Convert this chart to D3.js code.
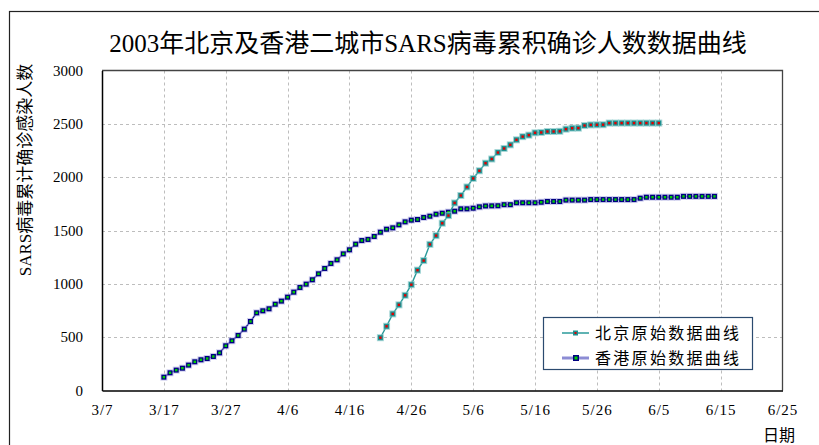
<!DOCTYPE html>
<html><head><meta charset="utf-8">
<script src="https://cdn.jsdelivr.net/npm/d3@7"></script>
<style>
html,body{margin:0;padding:0;background:#fff;}
svg{display:block;}
text{font-family:'Liberation Serif','Noto Sans CJK SC',serif;fill:#000;}
</style></head>
<body>
<svg id="chart" width="819" height="445"></svg>
<script>
const titleText = "2003年北京及香港二城市SARS病毒累积确诊人数数据曲线";
const yTitle = "SARS病毒累计确诊感染人数";
const xTitle = "日期";
const xTickLabels = ["3/7","3/17","3/27","4/6","4/16","4/26","5/6","5/16","5/26","6/5","6/15","6/25"];
const yTickValues = [0,500,1000,1500,2000,2500,3000];
const seriesNames = ["北京原始数据曲线","香港原始数据曲线"];

const hkDates = ["3/17","3/18","3/19","3/20","3/21","3/22","3/23","3/24","3/25","3/26","3/27","3/28","3/29","3/30","3/31",
"4/1","4/2","4/3","4/4","4/5","4/6","4/7","4/8","4/9","4/10","4/11","4/12","4/13","4/14","4/15","4/16","4/17","4/18","4/19","4/20","4/21","4/22","4/23","4/24","4/25","4/26","4/27","4/28","4/29","4/30",
"5/1","5/2","5/3","5/4","5/5","5/6","5/7","5/8","5/9","5/10","5/11","5/12","5/13","5/14","5/15","5/16","5/17","5/18","5/19","5/20","5/21","5/22","5/23","5/24","5/25","5/26","5/27","5/28","5/29","5/30","5/31",
"6/1","6/2","6/3","6/4","6/5","6/6","6/7","6/8","6/9","6/10","6/11","6/12","6/13","6/14"];
const hkValues = [125,166,191,209,238,269,288,300,319,353,419,466,516,575,647,
728,747,766,809,838,875,922,966,997,1038,1094,1144,1191,1225,1281,1319,1372,1406,1416,1444,1484,1512,1525,1553,1581,1597,1603,1622,1634,1653,
1662,1672,1681,1703,1703,1709,1722,1730,1731,1732,1742,1742,1760,1760,1760,1760,1765,1772,1772,1772,1785,1785,1785,1785,1790,1790,1790,1790,1790,1790,1790,
1790,1803,1812,1812,1812,1812,1812,1812,1820,1820,1820,1820,1820,1820];

const bjDates = ["4/21","4/22","4/23","4/24","4/25","4/26","4/27","4/28","4/29","4/30",
"5/1","5/2","5/3","5/4","5/5","5/6","5/7","5/8","5/9","5/10","5/11","5/12","5/13","5/14","5/15","5/16","5/17","5/18","5/19","5/20","5/21","5/22","5/23","5/24","5/25","5/26","5/27","5/28","5/29","5/30","5/31",
"6/1","6/2","6/3","6/4","6/5"];
const bjValues = [495,602,718,803,892,992,1128,1218,1370,1452,
1568,1640,1758,1828,1908,1988,2060,2131,2170,2231,2269,2303,2350,2380,2394,2416,2419,2428,2428,2430,2450,2459,2460,2484,2490,2491,2492,2507,2507,2507,2507,
2507,2507,2507,2507,2507];

const parse = s => { const [m,d] = s.split("/").map(Number); return new Date(2003, m-1, d); };

const svg = d3.select("#chart");
const L = 102, R = 782.5, T = 70.5, B = 390.5;

const x = d3.scaleTime().domain([parse(xTickLabels[0]), parse(xTickLabels[xTickLabels.length-1])]).range([L, R]);
const y = d3.scaleLinear().domain([0, 3000]).range([B, T]);

// outer frame
svg.append("rect").attr("x",9.5).attr("y",11.5).attr("width",830).attr("height",460)
  .attr("fill","none").attr("stroke","#222").attr("stroke-width",1.2);

// title
svg.append("text").attr("x",428).attr("y",52).attr("text-anchor","middle")
  .style("font-size","25px").text(titleText);

// gridlines
const grid = svg.append("g");
grid.selectAll("line.h").data(yTickValues.filter(v => v > 0 && v < 3000)).join("line")
  .attr("x1",L).attr("x2",R).attr("y1",d=>Math.round(y(d))+0.5).attr("y2",d=>Math.round(y(d))+0.5)
  .attr("stroke","#bdbdbd").attr("stroke-dasharray","3,3");
grid.selectAll("line.v").data(xTickLabels.slice(1,-1)).join("line")
  .attr("x1",d=>Math.round(x(parse(d)))+0.5).attr("x2",d=>Math.round(x(parse(d)))+0.5)
  .attr("y1",T).attr("y2",B).attr("stroke","#bdbdbd").attr("stroke-dasharray","3,3");

// plot frame top/right
svg.append("path").attr("d",`M${L},${T}H${R}V${B}`).attr("fill","none").attr("stroke","#444").attr("stroke-width",1.3);

// axes
const xAxis = d3.axisBottom(x).tickValues(xTickLabels.map(parse)).tickFormat((d,i)=>xTickLabels[i]).tickSize(0).tickPadding(14);
const gx = svg.append("g").attr("transform",`translate(0,${B})`).call(xAxis);
gx.select(".domain").attr("stroke","#000").attr("stroke-width",1.5);
gx.selectAll("text").style("font-size","15px").style("letter-spacing","1px").attr("fill","#000");

const yAxis = d3.axisLeft(y).tickValues(yTickValues).tickFormat(d3.format("d")).tickSize(0).tickPadding(19);
const gy = svg.append("g").attr("transform",`translate(${L},0)`).call(yAxis);
gy.select(".domain").attr("stroke","#000").attr("stroke-width",1.5);
gy.selectAll("text").style("font-size","15px").attr("fill","#000");

// axis titles
svg.append("text").attr("transform","translate(31,170) rotate(-90)").attr("text-anchor","middle")
  .style("font-size","17px").text(yTitle);
svg.append("text").attr("x",779).attr("y",441).attr("text-anchor","middle")
  .style("font-size","16px").text(xTitle);

const line = d3.line().x(d=>x(d[0])).y(d=>y(d[1]));
const hk = hkDates.map((d,i)=>[parse(d), hkValues[i]]);
const bj = bjDates.map((d,i)=>[parse(d), bjValues[i]]);

// Hong Kong series
const gHK = svg.append("g");
gHK.append("path").datum(hk).attr("d",line).attr("fill","none").attr("stroke","#a0a0dc").attr("stroke-width",2.5).attr("stroke-opacity",0.45);
gHK.append("path").datum(hk).attr("d",line).attr("fill","none").attr("stroke","#000080").attr("stroke-width",1.2);
function hkMarker(g, cx, cy){
  g.append("rect").attr("x",cx-3.5).attr("y",cy-3.5).attr("width",7).attr("height",7).attr("fill","#a8a8e0").attr("fill-opacity",0.55);
  g.append("rect").attr("x",cx-2.5).attr("y",cy-2.5).attr("width",5).attr("height",5).attr("fill","#000080");
  g.append("rect").attr("x",cx-1.2).attr("y",cy-1.2).attr("width",2.4).attr("height",2.4).attr("fill","#00d000");
}
hk.forEach(d => hkMarker(gHK, x(d[0]), y(d[1])));

// Beijing series
const gBJ = svg.append("g");
gBJ.append("path").datum(bj).attr("d",line).attr("fill","none").attr("stroke","#2a9a9a").attr("stroke-width",1.4);
function bjMarker(g, cx, cy){
  g.append("rect").attr("x",cx-3.5).attr("y",cy-3.5).attr("width",7).attr("height",7).attr("fill","#80c4c4").attr("fill-opacity",0.7);
  g.append("rect").attr("x",cx-2.5).attr("y",cy-2.5).attr("width",5).attr("height",5).attr("fill","#1f9090");
  g.append("rect").attr("x",cx-1.2).attr("y",cy-1.2).attr("width",2.4).attr("height",2.4).attr("fill","#e00000");
}
bj.forEach(d => bjMarker(gBJ, x(d[0]), y(d[1])));

// legend
const lg = svg.append("g");
lg.append("rect").attr("x",543.5).attr("y",317.5).attr("width",209).attr("height",52)
  .attr("fill","#fff").attr("stroke","#2b4a6f").attr("stroke-width",1.2);
const rows = [333, 358];
lg.append("line").attr("x1",562).attr("x2",589).attr("y1",rows[0]).attr("y2",rows[0]).attr("stroke","#2a9a9a").attr("stroke-width",1.5);
lg.append("rect").attr("x",573).attr("y",rows[0]-2.5).attr("width",5).attr("height",5).attr("fill","#1f9090");
lg.append("rect").attr("x",574.5).attr("y",rows[0]-1).attr("width",2).attr("height",2).attr("fill","#e00000");
lg.append("line").attr("x1",562).attr("x2",589).attr("y1",rows[1]).attr("y2",rows[1]).attr("stroke","#8c8cd4").attr("stroke-width",3);
lg.append("rect").attr("x",573).attr("y",rows[1]-3).attr("width",6).attr("height",6).attr("fill","#000080");
lg.append("rect").attr("x",574.5).attr("y",rows[1]-1.5).attr("width",3).attr("height",3).attr("fill","#00d000");
lg.selectAll("text.lt").data(seriesNames).join("text")
  .attr("x",595).attr("y",(d,i)=>rows[i]+6).style("font-size","16px").style("letter-spacing","2.3px").text(d=>d);
</script>
</body></html>
